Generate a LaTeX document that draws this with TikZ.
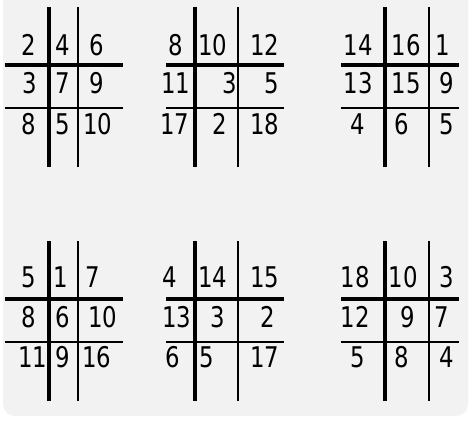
\documentclass[tikz,border=0pt]{standalone}
\usepackage{fontspec}
\newfontfamily\digitfont[FakeStretch=0.8]{DejaVu Sans}
\usepackage{tikz}
\tikzset{
    heavy/.style={line width=3.6pt},
    light/.style={line width=2.8pt},
    num/.style={font=\digitfont\fontsize{28.5}{28.5}\selectfont,inner sep=0pt}
}
\newcommand\board[4]{
    \draw[heavy] (#3,#2) -- (#3,#2+160);
    \draw[light] (#4,#2) -- (#4,#2+160);
    \draw[heavy] (#1,#2+58) -- (#1+118,#2+58);
    \draw[light] (#1,#2+101) -- (#1+118,#2+101);
}

\begin{document}
\begin{tikzpicture}[x=1pt,y=-1pt]
        \useasboundingbox (0,0) rectangle (470,424);
        \fill[white] (0,0) rectangle (470,424);
        \fill[gray!10,rounded corners=12pt] (3,-20) rectangle (468,416);

        \board{5}{7}{49}{78}
        \board{166}{7}{195}{238}
        \board{341}{7}{385}{429}
        \board{5}{241}{49}{78}
        \board{166}{241}{195}{238}
        \board{341}{241}{385}{429}

        \foreach \x/\y/\t [count=\i] in {
            29/45/2, 63/45/4, 97/45/6,
            30/83/3, 63/83/7, 97/83/9,
            29/124/8, 63/124/5, 98/124/10,
            176/45/8, 213/45/10, 265/45/12,
            176/83/11, 230/83/3, 272/83/5,
            175/124/17, 220/124/2, 265/124/18,
            358/45/14, 406/45/16, 443/45/1,
            358/83/13, 406/83/15, 447/83/9,
            358/124/4, 402/124/6, 447/124/5,
            29/277/5, 61/277/1, 93/277/7,
            29/317/8, 63/317/6, 103/317/10,
            33/357/11, 63/357/9, 97/357/16,
            170/277/4, 213/277/14, 265/277/15,
            177/317/13, 218/317/3, 268/317/2,
            173/357/6, 207/357/5, 265/357/17,
            355/277/18, 403/277/10, 447/277/3,
            355/317/12, 408/317/9, 442/317/7,
            358/357/5, 402/357/8, 447/357/4}
            \node[num] (n\i) at (\x,\y) {\t};
    \end{tikzpicture}
\end{document}
